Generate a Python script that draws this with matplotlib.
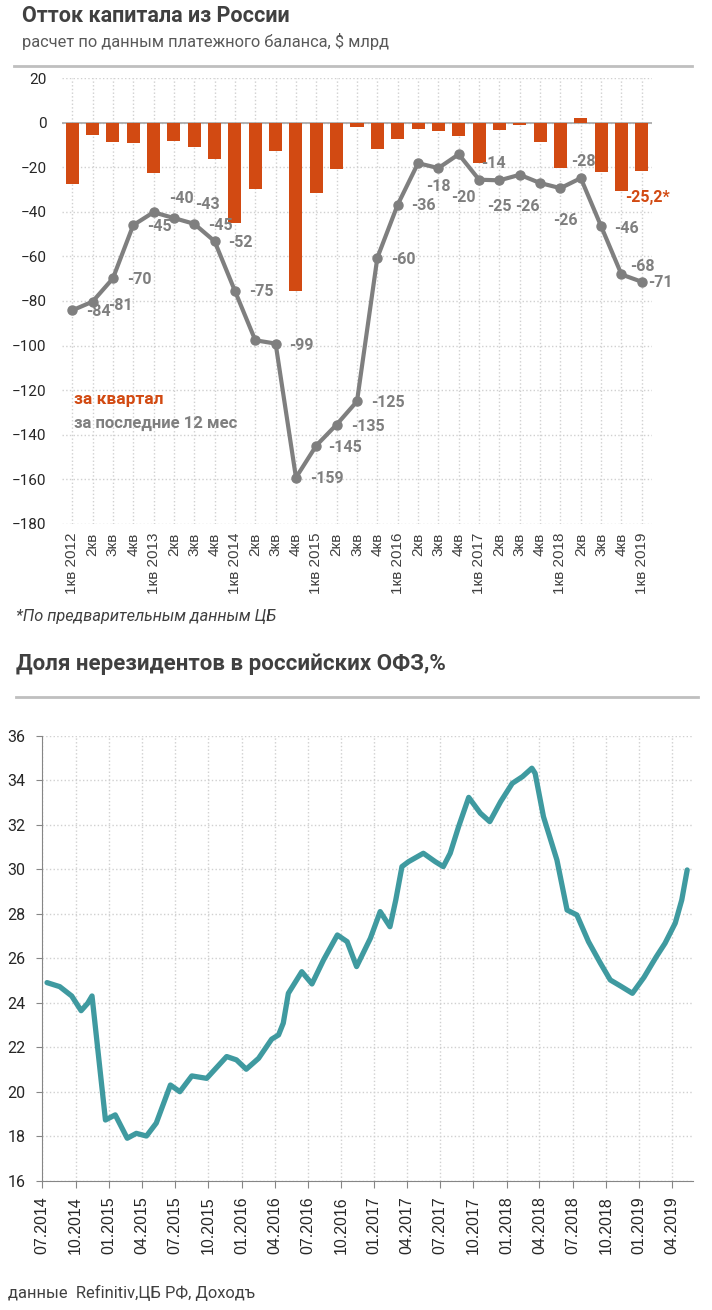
# Capital outflow from Russia + non-resident share in OFZ

import pandas as pd
import matplotlib
matplotlib.use("Agg")
from matplotlib import pyplot as plt
import matplotlib.dates as mdates
from matplotlib.lines import Line2D

# top chart data
quarters = ["1кв 2012", "2кв", "3кв", "4кв",
            "1кв 2013", "2кв", "3кв", "4кв",
            "1кв 2014", "2кв", "3кв", "4кв",
            "1кв 2015", "2кв", "3кв", "4кв",
            "1кв 2016", "2кв", "3кв", "4кв",
            "1кв 2017", "2кв", "3кв", "4кв",
            "1кв 2018", "2кв", "3кв", "4кв",
            "1кв 2019"]
per_quarter = [-27.7, -5.5, -8.7, -9.2, -22.5, -8.1, -11.0, -16.3,
               -45.2, -29.9, -12.6, -75.6, -31.4, -20.6, -1.8, -11.7,
               -7.3, -2.8, -3.9, -5.8, -18.1, -3.3, -1.2, -8.9,
               -20.3, 2.0, -22.2, -30.7, -21.5]
last_12m = [-84.2, -80.3, -69.9, -46.0, -40.2, -42.8, -45.4, -53.2,
            -75.5, -97.6, -99.1, -159.2, -144.8, -135.4, -125.0, -60.6,
            -36.8, -18.2, -20.4, -14.2, -25.6, -25.9, -23.4, -27.1,
            -29.4, -24.9, -46.5, -68.1, -71.4]
value_labels = ["-84", "-81", "-70", "-45", "-40", "-43", "-45", "-52", "-75",
                "-99", "-159", "-145", "-135", "-125", "-60", "-36", "-18",
                "-20", "-14", "-25", "-26", "-26", "-28", "-46", "-68", "-71"]
last_quarter_label = "-25,2*"

# where excel put the data labels (category x, value y)
label_pos = [(1.28, -84.9), (2.36, -82.2), (3.29, -70.3), (4.27, -46.5),
             (5.35, -34.0), (6.63, -36.6), (7.27, -46.0), (8.25, -53.6),
             (9.28, -75.9), (11.25, -100.1), (12.52, -159.5), (13.41, -145.7),
             (14.54, -136.3), (15.52, -125.6), (16.26, -61.2), (17.24, -37.1),
             (17.98, -28.6), (19.25, -33.5), (20.73, -18.4), (20.98, -37.5),
             (22.35, -37.5), (24.26, -43.8), (25.15, -17.4), (27.26, -47.4),
             (28.05, -64.4), (28.93, -71.9)]

# bottom chart data
ofz_dates = ["2014-07-14", "2014-08-18", "2014-09-20", "2014-10-16", "2014-11-03",
             "2014-11-15", "2014-12-22", "2015-01-18", "2015-02-20", "2015-03-17",
             "2015-04-14", "2015-05-11", "2015-06-19", "2015-07-15", "2015-08-17",
             "2015-09-27", "2015-11-21", "2015-12-18", "2016-01-14", "2016-02-17",
             "2016-03-24", "2016-04-12", "2016-04-25", "2016-05-09", "2016-06-15",
             "2016-07-13", "2016-08-14", "2016-09-21", "2016-10-18", "2016-11-13",
             "2016-12-21", "2017-01-17", "2017-02-13", "2017-03-01", "2017-03-18",
             "2017-04-05", "2017-05-16", "2017-06-18", "2017-07-10", "2017-07-29",
             "2017-08-21", "2017-09-18", "2017-10-20", "2017-11-15", "2017-12-15",
             "2018-01-16", "2018-02-13", "2018-03-11", "2018-03-20", "2018-04-12",
             "2018-05-19", "2018-06-16", "2018-07-13", "2018-08-14", "2018-09-16",
             "2018-10-13", "2018-11-10", "2018-12-13", "2019-01-14", "2019-02-16",
             "2019-03-13", "2019-04-10", "2019-04-28", "2019-05-13"]
ofz_share = [24.91, 24.73, 24.31, 23.65, 23.98, 24.31, 18.74, 18.97, 17.92, 18.14,
             18.02, 18.60, 20.31, 20.01, 20.72, 20.61, 21.59, 21.44, 21.02, 21.51,
             22.37, 22.56, 23.09, 24.43, 25.40, 24.85, 25.93, 27.05, 26.75, 25.63,
             26.90, 28.10, 27.42, 28.62, 30.12, 30.34, 30.72, 30.34, 30.12, 30.72,
             31.91, 33.23, 32.52, 32.14, 33.04, 33.86, 34.16, 34.54, 34.31, 32.36,
             30.42, 28.17, 27.95, 26.75, 25.78, 25.03, 24.76, 24.43, 25.15, 26.05,
             26.68, 27.58, 28.62, 29.97]

W, H = 712, 1310
ORANGE = "#D24A12"
GREY = "#7F7F7F"
TEAL = "#3F9AA0"
TXT = "#404040"
GRID = "#D0D0D0"
FONT = "Roboto"

fig = plt.figure(figsize=(W / 100, H / 100), dpi=100)


def px_text(x, y, s, **kw):
    fig.text(x / W, 1 - y / H, s, va="center", ha="left", family=FONT, **kw)


def px_hline(y, x0, x1):
    fig.add_artist(Line2D([x0 / W, x1 / W], [1 - y / H, 1 - y / H],
                          color="#BFBFBF", lw=2, transform=fig.transFigure))


# headers
px_text(22, 16, "Отток капитала из России", fontsize=15.5, fontweight="bold", color=TXT)
px_text(22, 41, "расчет по данным платежного баланса, $ млрд", fontsize=11.8, color="#595959")
px_hline(66, 14, 692)
px_text(16, 617, "*По предварительным данным ЦБ", fontsize=11.8, style="italic", color=TXT)
px_text(16, 664, "Доля нерезидентов в российских ОФЗ,%", fontsize=16, fontweight="bold", color=TXT)
px_hline(697, 16, 698)
px_text(8, 1293, "данные  Refinitiv,ЦБ РФ, Доходъ", fontsize=11.9, color=TXT)

# --- top chart
ax = fig.add_axes([62 / W, 1 - 524 / H, 590 / W, 446 / H])
x = list(range(len(quarters)))
ax.bar(x, per_quarter, width=0.64, color=ORANGE, zorder=2)
ax.axhline(0, color="#A6A6A6", lw=1.2, zorder=1)
ax.plot(x, last_12m, color=GREY, lw=3, marker="o", ms=6.5,
        solid_joinstyle="round", zorder=3)

for s, (lx, ly) in zip(value_labels, label_pos):
    ax.text(lx, ly, s, ha="center", va="center", family=FONT,
            fontsize=11.5, fontweight="bold", color=GREY, zorder=4)
ax.text(28.28, -33.5, last_quarter_label, ha="center", va="center", family=FONT,
        fontsize=11.5, fontweight="bold", color=ORANGE, zorder=4)

ax.text(0.1, -124, "за квартал", family=FONT, fontsize=12.5,
        fontweight="bold", color=ORANGE, va="center")
ax.text(0.1, -135, "за последние 12 мес", family=FONT, fontsize=12,
        fontweight="bold", color=GREY, va="center")

ax.set_xlim(-0.5, len(quarters) - 0.5)
ax.set_ylim(-180, 20)
ax.set_yticks(range(-180, 21, 20))
ax.set_xticks(x)
ax.set_xticklabels(quarters, rotation=90, va="top", ha="center",
                   family="Liberation Sans", fontsize=11, color=TXT)
for lbl in ax.get_yticklabels():
    lbl.set_family(FONT)
ax.tick_params(axis="y", length=0, pad=11, labelsize=11, labelcolor="#262626")
ax.tick_params(axis="x", length=0, pad=6)
ax.grid(True, linestyle=":", color=GRID, lw=1)
ax.set_axisbelow(True)
for sp in ax.spines.values():
    sp.set_visible(False)

# --- bottom chart
bx = fig.add_axes([42.3 / W, 1 - 1181 / H, 650.7 / W, 445.3 / H])
dates = pd.to_datetime(ofz_dates)
bx.plot(dates, ofz_share, color=TEAL, lw=3.8, solid_joinstyle="round",
        solid_capstyle="round", zorder=3)
bx.set_xlim(pd.Timestamp("2014-07-01"), pd.Timestamp("2019-05-29"))
bx.set_ylim(16, 36)
bx.set_yticks(range(16, 37, 2))
bx.set_xticks(pd.date_range("2014-07-01", "2019-04-01", freq="QS-JAN"))
bx.xaxis.set_major_formatter(mdates.DateFormatter("%m.%Y"))
plt.setp(bx.get_xticklabels(), rotation=90, va="top", ha="center",
         family="Liberation Sans", fontsize=11.5, color="#262626")
for lbl in bx.get_yticklabels():
    lbl.set_family(FONT)
bx.tick_params(axis="y", length=4, pad=8, labelsize=11.5, labelcolor="#262626",
               color="#868686")
bx.tick_params(axis="x", length=5, pad=6, color="#868686")
bx.grid(True, linestyle=":", color=GRID, lw=1)
bx.set_axisbelow(True)
bx.spines["top"].set_visible(False)
bx.spines["right"].set_visible(False)
bx.spines["left"].set_color("#868686")
bx.spines["bottom"].set_color("#868686")

fig.savefig("out.png", dpi=100)
